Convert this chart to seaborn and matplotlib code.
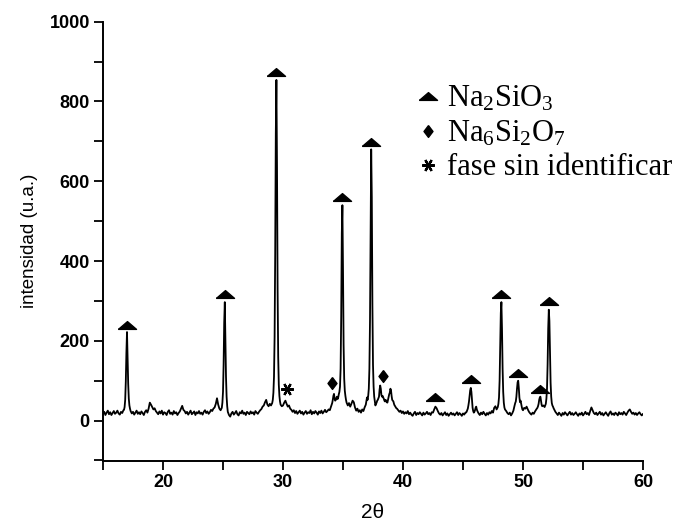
import numpy as np
import pandas as pd
import seaborn as sns
import matplotlib.pyplot as plt
from matplotlib.lines import Line2D
from matplotlib.ticker import MultipleLocator

sns.set_style("ticks")
plt.rcParams["font.family"] = ["Liberation Sans", "DejaVu Sans"]
plt.rcParams["mathtext.fontset"] = "custom"
plt.rcParams["mathtext.rm"] = "Liberation Serif"
plt.rcParams["mathtext.it"] = "Liberation Serif:italic"
for k in ["text.color", "axes.labelcolor", "xtick.color", "ytick.color"]:
    plt.rcParams[k] = "black"

# ---------------------------------------------------------
# DATA: difractograma leido a mano, tramos (inicio, paso, valores)
# ---------------------------------------------------------
tramos = [
    (15.0, 0.1, [17, 22, 14, 20, 25, 16, 21, 14, 19, 24, 17, 20, 25, 18, 15, 22, 19, 26]),
    (16.75, 0.05, [27, 34, 52, 98, 170, 222, 160, 92, 55, 38, 30]),
    (17.3, 0.1, [24, 18, 22, 15, 20, 25, 17, 21, 16, 23, 19, 14, 22, 26, 20,
                 30, 45, 40, 34, 28, 31, 24,
                 20, 16, 23, 18, 25, 15, 21, 19, 14, 22, 26, 17, 20, 15, 24, 18, 21, 14, 19, 23,
                 30, 37, 27, 24,
                 18, 22, 15, 20, 25, 16, 19, 23, 14, 21, 18, 24, 17, 20, 15, 22, 26, 19, 23, 17, 21, 27, 24,
                 30, 33, 42, 56, 40, 30, 26, 32]),
    (24.95, 0.05, [45, 72, 140, 245, 297, 210, 110, 60, 36, 22]),
    (25.5, 0.1, [14, 10, 18, 22, 15, 19, 24, 16, 13, 21, 18, 25, 17, 20, 14, 22, 19, 16, 23, 18,
                 21, 15, 24, 20, 17, 22, 26, 29, 35,
                 38, 46, 52, 40, 36, 42, 38, 44]),
    (29.15, 0.05, [52, 70, 110, 210, 420, 720, 854, 640, 330, 160, 90, 62, 48]),
    (29.8, 0.1, [40, 36, 38, 45, 50, 42, 35, 38, 30, 27,
                 22, 26, 19, 24, 17, 21, 25, 18, 22, 15, 20, 24, 17, 21, 19, 26, 16, 22, 18, 24,
                 20, 15, 23, 19, 25, 18, 22, 27, 21, 24, 28, 26]),
    (34.0, 0.05, [35, 40, 44, 52, 62, 67, 55, 50, 52, 57, 60, 54, 58, 66, 72, 85, 130, 260, 470, 540,
                  380, 190, 105, 75, 62, 52, 45]),
    (35.4, 0.1, [38, 44, 35, 42, 50, 46, 33, 25, 30, 22, 26, 20, 28, 24, 33, 40]),
    (37.0, 0.05, [58, 52, 62, 80, 130, 250, 480, 680, 560, 290, 140, 85, 60, 48, 38,
                  42, 45, 50, 52, 56, 60, 78, 88, 80, 64, 60, 62, 58, 55, 50, 48,
                  52, 50, 46, 45, 52, 60, 66, 70, 80, 76, 62, 52, 50, 48, 42, 38, 36, 33, 31, 30, 28, 26]),
    (39.7, 0.1, [22, 25, 19, 23, 17, 21, 18, 24, 16, 20, 15, 12, 18, 22, 14, 19, 16, 21, 17, 13,
                 20, 15, 18, 22, 16, 19, 14, 21,
                 20, 28, 35, 31, 24, 18,
                 15, 19, 13, 17, 21, 14, 18, 12, 16, 20, 15, 18, 13, 17, 21, 14, 19, 16, 12, 18, 15, 20]),
    (45.25, 0.05, [20, 22, 26, 30, 38, 48, 62, 76, 82, 72, 50, 32, 24, 20, 22, 26, 32, 35, 28, 24]),
    (46.3, 0.1, [18, 14, 20, 16, 22, 17, 13, 19, 15, 21, 18, 24, 20, 32, 36, 28, 34]),
    (47.95, 0.05, [42, 58, 100, 180, 270, 297, 230, 130, 72, 45, 33, 28]),
    (48.6, 0.1, [24, 19, 16, 20, 13, 18, 25]),
    (49.25, 0.05, [32, 38, 44, 48, 60, 80, 96, 100, 82, 58, 46, 50, 42, 34, 28]),
    (50.0, 0.1, [26, 32, 30, 35, 28, 22, 18, 15, 20, 17, 23, 28]),
    (51.15, 0.05, [30, 32, 36, 42, 52, 58, 60, 50, 40, 36, 37, 38, 36, 34, 38, 42, 55, 80, 140, 230,
                   278, 250, 165, 95, 60, 44, 38, 35, 31, 28, 25, 22]),
    (52.8, 0.1, [18, 14, 20, 16, 12, 19, 15, 21, 17, 13, 18, 22, 15, 19, 14, 17, 21, 16, 12, 18,
                 15, 20, 13, 17, 22, 16, 19, 14, 24,
                 33, 26, 19,
                 16, 20, 14, 18, 22, 15, 19, 13, 17, 21, 16, 12, 19, 23, 15, 18, 14, 20, 17, 13,
                 21, 16, 19, 15, 22, 18, 14, 20, 25, 28, 22, 17, 20, 15, 19, 14, 18, 21, 16, 13, 17]),
]

# picos identificados
tri_x = [17.0, 25.15, 29.45, 34.95, 37.35, 42.7, 45.65, 48.2, 49.6, 51.45, 52.15]
tri_y = [240, 318, 873, 560, 699, 58, 105, 318, 119, 80, 301]
dia_x = [34.1, 38.3]
dia_y = [94, 111]
ast_x = [30.3]
ast_y = [80]

leyenda = [r"$\mathrm{Na_2SiO_3}$", r"$\mathrm{Na_6Si_2O_7}$", "fase sin identificar"]

xs, ys = [], []
for inicio, paso, vals in tramos:
    xs.extend(np.round(inicio + paso * np.arange(len(vals)), 2))
    ys.extend(vals)
df = pd.DataFrame({"2theta": xs, "intensidad": ys})

# ---------------------------------------------------------
# FIGURA
# ---------------------------------------------------------
fig = plt.figure(figsize=(6.8, 5.23), dpi=100)
ax = fig.add_axes([103 / 680, 1 - 460.5 / 523, 540 / 680, 438.8 / 523])

sns.lineplot(data=df, x="2theta", y="intensidad", color="black", lw=1.3,
             estimator=None, sort=False, ax=ax)

tri = [(-1, -0.43), (1, -0.43), (0, 0.43), (-1, -0.43)]
rombo = [(0, 0.5), (0.38, 0), (0, -0.5), (-0.38, 0), (0, 0.5)]
ax.plot(tri_x, tri_y, ls="none", marker=tri, ms=13, color="black")
ax.plot(dia_x, dia_y, ls="none", marker=rombo, ms=8.5, color="black")
ax.plot(ast_x, ast_y, ls="none", marker=(6, 2, 90), ms=9, mew=1.6, color="black")

ax.set_xlim(15, 60)
ax.set_ylim(-100, 1000)
ax.xaxis.set_major_locator(MultipleLocator(10))
ax.xaxis.set_minor_locator(MultipleLocator(5))
ax.yaxis.set_major_locator(MultipleLocator(200))
ax.yaxis.set_minor_locator(MultipleLocator(100))
ax.tick_params(which="both", direction="out", length=6.5, width=1.3, color="black")
ax.tick_params(which="major", labelsize=13, pad=3)
for lab in ax.get_xticklabels() + ax.get_yticklabels():
    lab.set_fontweight("bold")
sns.despine(ax=ax)
for s in ["left", "bottom"]:
    ax.spines[s].set_linewidth(1.4)
    ax.spines[s].set_color("black")

ax.set_xlabel("2θ", fontsize=15, labelpad=9)
ax.set_ylabel("intensidad (u.a.)", fontsize=13.5, labelpad=8)

handles = [
    Line2D([], [], ls="none", marker=tri, ms=13, color="black"),
    Line2D([], [], ls="none", marker=rombo, ms=8.5, color="black"),
    Line2D([], [], ls="none", marker=(6, 2, 90), ms=9, mew=1.6, color="black"),
]
ax.legend(handles, leyenda, loc="upper left", bbox_to_anchor=(416 / 680, 1 - 84 / 523),
          bbox_transform=fig.transFigure, frameon=False,
          prop={"family": "Liberation Serif", "size": 22},
          handlelength=0.8, handletextpad=0.2, labelspacing=0.17, borderpad=0, borderaxespad=0)

fig.savefig("out.png", dpi=100)
